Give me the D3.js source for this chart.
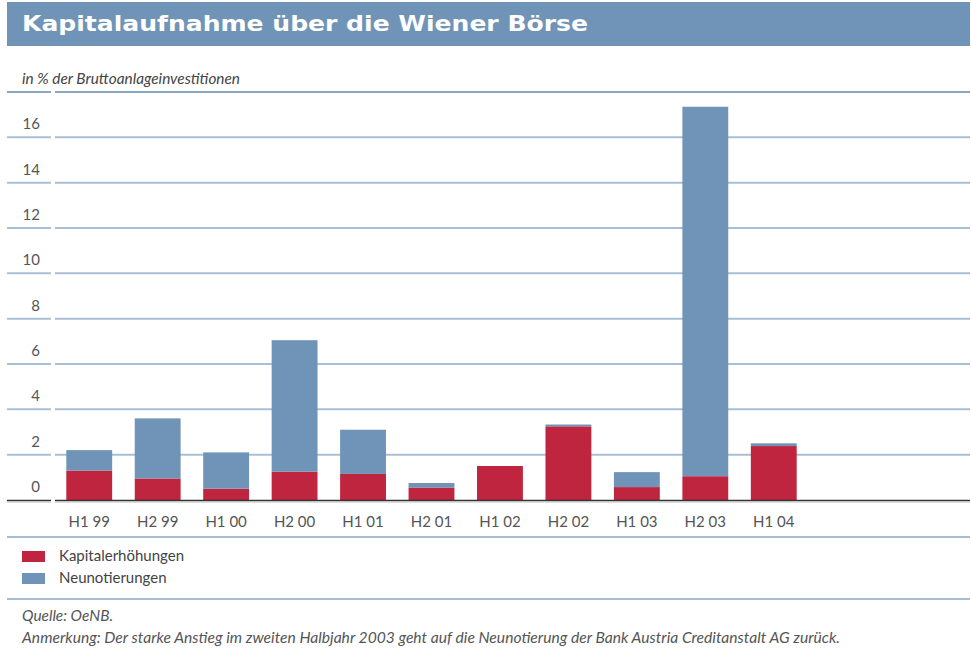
<!DOCTYPE html>
<html>
<head>
<meta charset="utf-8">
<script src="https://cdn.jsdelivr.net/npm/d3@7"></script>
<style>
  body { margin: 0; background: #fff; }
  svg text { font-family: Lato, "Open Sans", sans-serif; }
</style>
</head>
<body>
<div id="chart"></div>
<script>
const periods = ["H1 99", "H2 99", "H1 00", "H2 00", "H1 01", "H2 01", "H1 02", "H2 02", "H1 03", "H2 03", "H1 04"];
const kapitalerhoehungen = [1.3, 0.95, 0.5, 1.25, 1.15, 0.55, 1.5, 3.25, 0.57, 1.05, 2.38];
const neunotierungen = [0.9, 2.65, 1.6, 5.8, 1.95, 0.2, 0, 0.08, 0.66, 16.3, 0.12];
const yTicks = [0, 2, 4, 6, 8, 10, 12, 14, 16];
const gridValues = [2, 4, 6, 8, 10, 12, 14, 16];

const width = 971, height = 655;
const red = '#c0253f', blue = '#6f94b7';

const svg = d3.select('#chart')
  .append('svg')
    .attr('width', width)
    .attr('height', height);

// title bar
svg.append('rect')
  .attr('x', 7).attr('y', 2)
  .attr('width', 963).attr('height', 44)
  .attr('fill', '#6f94b7');
svg.append('text')
  .attr('x', 22).attr('y', 31)
  .attr('fill', '#fff')
  .attr('font-weight', 'bold')
  .attr('font-size', 22)
  .attr('textLength', 566)
  .attr('lengthAdjust', 'spacingAndGlyphs')
  .style('font-family', '"DejaVu Sans", sans-serif')
  .text('Kapitalaufnahme über die Wiener Börse');

svg.append('text')
  .attr('x', 22).attr('y', 84)
  .attr('fill', '#444')
  .attr('font-size', 15)
  .attr('font-style', 'italic')
  .attr('textLength', 218)
  .attr('lengthAdjust', 'spacingAndGlyphs')
  .text('in % der Bruttoanlageinvestitionen');

const y = d3.scaleLinear()
  .domain([0, 18])
  .range([500, 92]);

const x = d3.scaleBand()
  .domain(periods)
  .range([55, 808])
  .paddingInner(0.33)
  .paddingOuter(0.165);

// gridlines, split into label column and plot area
const grid = svg.append('g');
gridValues.forEach(v => {
  [[7, 51], [55, 970]].forEach(([a, b]) => {
    grid.append('line')
      .attr('x1', a).attr('x2', b)
      .attr('y1', y(v)).attr('y2', y(v))
      .attr('stroke', '#a9bfd3')
      .attr('stroke-width', 2);
  });
});
// top frame line
[[7, 51], [55, 970]].forEach(([a, b]) => {
  svg.append('line')
    .attr('x1', a).attr('x2', b)
    .attr('y1', y(18)).attr('y2', y(18))
    .attr('stroke', '#8aa6c0')
    .attr('stroke-width', 2);
});

// y labels sit above their lines
svg.append('g')
  .selectAll('text')
  .data(yTicks)
  .join('text')
    .attr('x', 40)
    .attr('y', d => y(d) - 8)
    .attr('text-anchor', 'end')
    .attr('fill', '#555')
    .attr('font-size', 15)
    .text(d => d);

// stacked bars
const stacked = d3.stack().keys(['k', 'n'])(
  periods.map((p, i) => ({ p, k: kapitalerhoehungen[i], n: neunotierungen[i] }))
);
const colors = { k: red, n: blue };

svg.append('g')
  .selectAll('g')
  .data(stacked)
  .join('g')
    .attr('fill', d => colors[d.key])
  .selectAll('rect')
  .data(d => d)
  .join('rect')
    .attr('x', d => x(d.data.p))
    .attr('width', x.bandwidth())
    .attr('y', d => y(d[1]))
    .attr('height', d => y(d[0]) - y(d[1]));

// baseline
[[7, 51], [55, 970]].forEach(([a, b]) => {
  svg.append('line')
    .attr('x1', a).attr('x2', b)
    .attr('y1', 500.5).attr('y2', 500.5)
    .attr('stroke', '#333')
    .attr('stroke-width', 1.5);
  svg.append('line')
    .attr('x1', a).attr('x2', b)
    .attr('y1', 502).attr('y2', 502)
    .attr('stroke', '#bbb')
    .attr('stroke-width', 1);
});

// x labels
svg.append('g')
  .selectAll('text')
  .data(periods)
  .join('text')
    .attr('x', d => x(d) + x.bandwidth() / 2)
    .attr('y', 527)
    .attr('text-anchor', 'middle')
    .attr('fill', '#555')
    .attr('font-size', 15)
    .text(d => d);

// separators
[537, 599].forEach(yy => {
  svg.append('line')
    .attr('x1', 7).attr('x2', 970)
    .attr('y1', yy).attr('y2', yy)
    .attr('stroke', '#8aa6c0')
    .attr('stroke-width', 1.5);
});

// legend
const legendItems = [
  { label: 'Kapitalerhöhungen', color: red },
  { label: 'Neunotierungen', color: blue }
];
const legend = svg.append('g')
  .selectAll('g')
  .data(legendItems)
  .join('g')
    .attr('transform', (d, i) => `translate(22, ${551 + i * 22})`);
legend.append('rect')
  .attr('width', 23).attr('height', 11)
  .attr('fill', d => d.color);
legend.append('text')
  .attr('x', 37).attr('y', 10)
  .attr('fill', '#444')
  .attr('font-size', 15)
  .text(d => d.label);

// notes
const notes = [
  { text: 'Quelle: OeNB.', len: 91 },
  { text: 'Anmerkung: Der starke Anstieg im zweiten Halbjahr 2003 geht auf die Neunotierung der Bank Austria Creditanstalt AG zurück.', len: 818 }
];
svg.append('g')
  .selectAll('text')
  .data(notes)
  .join('text')
    .attr('x', 22)
    .attr('y', (d, i) => 621 + i * 22)
    .attr('fill', '#555')
    .attr('font-size', 15.5)
    .attr('font-style', 'italic')
    .attr('textLength', d => d.len)
    .attr('lengthAdjust', 'spacingAndGlyphs')
    .text(d => d.text);
</script>
</body>
</html>
